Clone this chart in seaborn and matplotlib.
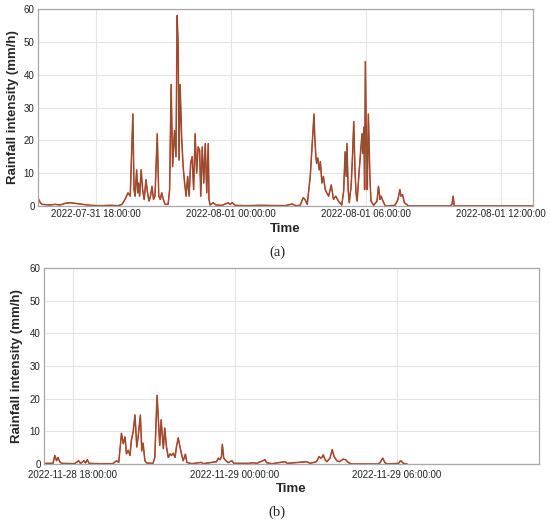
import matplotlib
matplotlib.use("Agg")
import matplotlib.pyplot as plt
import matplotlib.dates as mdates
import pandas as pd
import seaborn as sns

# ---------------- data ----------------
# Panel (a): minutes after 2022-07-31 18:00
a_base = "2022-07-31 18:00:00"
a_minutes = [-155, -149, -144, -123, -109, -96, -83, -69, -56, -43, -29, -16, 11, 37, 59,
             69, 77, 85, 91, 98, 101, 104, 108, 111, 113, 116, 120, 124, 128, 133,
             137, 141, 145, 149, 153, 157, 163, 167, 171, 175, 179, 184, 192, 196, 200,
             204, 209, 213, 216, 219, 221, 224, 228, 232, 236, 240, 244, 248, 252, 256,
             260, 264, 268, 272, 276, 279, 283, 287, 291, 295, 299, 301, 304, 312, 320,
             336, 352, 357, 363, 371, 397, 437, 504, 523, 528, 533, 544, 552, 557, 563,
             571, 581, 583, 586, 588, 591, 595, 598, 602, 606, 611, 615, 620, 627, 633,
             639, 646, 655, 660, 664, 667, 669, 672, 675, 680, 684, 687, 690, 693, 696,
             701, 709, 711, 714, 716, 718, 721, 723, 726, 730, 733, 740, 749, 753, 757,
             760, 765, 771, 797, 805, 810, 813, 817, 822, 833, 944, 949, 952, 955, 1165]
a_values = [2.5, 1.0, 0.5, 0.3, 0.5, 0.3, 0.8, 1.0, 0.8, 0.6, 0.4, 0.2, 0.1, 0.2, 0.1,
            0.5, 2, 4, 3, 28, 5, 3, 11, 4, 7, 3, 11, 5, 2, 8,
            4, 1.5, 3, 6, 2, 3, 22, 3, 2, 4, 2, 0.5, 0.5, 5, 37,
            12, 23, 15, 58, 48, 14, 37, 21, 12, 7, 3, 9, 3, 13, 15,
            5, 22, 10, 18, 17, 3, 18, 7, 19, 4, 19, 2, 0.3, 1, 0.3,
            0.2, 1, 0.5, 1, 0.2, 0.1, 0.2, 0.1, 0.6, 0.3, 0.1, 0.2, 2.5, 2, 0.5,
            9, 28, 21, 15, 13, 14.6, 11, 13.5, 7, 9, 5, 4, 3, 6.4, 2,
            3, 1.5, 0.3, 4.4, 16.5, 9, 19, 5, 1, 6, 16, 25.7, 12, 4, 1.5,
            10, 22, 16, 24, 5, 44, 16, 5, 28, 9, 1.5, 0.2, 1.5, 6, 2,
            3, 1.5, 0, 0.2, 2, 5, 3, 3.5, 1, 0, 0, 0.5, 3, 0, 0]
a_xlim = (-155, 1165)

# Panel (b): minutes after 2022-11-28 18:00
b_base = "2022-11-28 18:00:00"
b_minutes = [-64, -44, -40, -36, -33, -29, -25, 4, 13, 17, 25, 28, 32, 36, 60,
             89, 97, 102, 108, 112, 116, 119, 123, 127, 130, 134, 138, 142, 145, 150,
             153, 156, 160, 164, 178, 182, 187, 190, 193, 196, 201, 204, 208, 212, 216,
             219, 223, 227, 230, 234, 238, 242, 245, 250, 253, 264, 286, 289, 319, 323,
             327, 330, 332, 335, 340, 345, 353, 358, 393, 398, 408, 427, 430, 442, 471,
             476, 519, 527, 541, 547, 550, 553, 556, 560, 564, 571, 576, 580, 586, 592,
             600, 606, 612, 619, 678, 682, 688, 693, 698, 723, 728, 734, 742]
b_values = [0.2, 0.2, 2.6, 1, 2, 0.7, 0.2, 0.1, 1, 0.2, 1, 0.3, 1.3, 0.2, 0.1,
            0.1, 1, 0.5, 9.4, 6.2, 8.3, 3.1, 4.2, 2.6, 7.3, 9.9, 15, 5.2, 8.3, 15,
            4, 6.4, 1, 0.3, 0.2, 2, 21, 13.5, 5.7, 13.5, 4.7, 11, 5.2, 2, 3.1,
            2.6, 3.3, 2, 5.2, 8, 5.2, 2.6, 1, 3, 0.5, 0.1, 0.5, 0.1, 0.7, 1.8,
            1.3, 2.3, 6, 1.8, 1, 0.4, 1, 0.2, 0.2, 0.4, 0.2, 1.3, 0.4, 0.1, 0.7,
            0.2, 0.7, 0.2, 0.7, 2.3, 1.8, 2, 2.8, 1.3, 0.7, 1.8, 4.4, 2.3, 1, 0.7,
            1.5, 1.3, 0.4, 0, 0, 0.4, 1.8, 0.4, 0, 0.2, 1, 0.2, 0]
b_xlim = (-64, 1035)

y_ticks = [0, 10, 20, 30, 40, 50, 60]

# ---------------- plotting ----------------
sns.set_style("white")
plt.rcParams["font.family"] = ["Liberation Sans", "DejaVu Sans"]

W, H = 550, 522
fig = plt.figure(figsize=(W / 100, H / 100), dpi=100)
ax_a = fig.add_axes([38 / W, 1 - 206 / H, 495 / W, 197 / H])
ax_b = fig.add_axes([44 / W, 1 - 464 / H, 495 / W, 196 / H])


def draw(ax, base, minutes, values, xlim, ylab_x, xlab_y, xpad):
    t0 = pd.Timestamp(base)
    df = pd.DataFrame({
        "Time": t0 + pd.to_timedelta(minutes, unit="min"),
        "Rainfall": values,
    })
    sns.lineplot(data=df, x="Time", y="Rainfall", ax=ax, color="#ee2c24", lw=1.1)
    sns.lineplot(data=df, x="Time", y="Rainfall", ax=ax, color="#7d5a33", lw=0.7)
    ax.set_xlim(t0 + pd.Timedelta(minutes=xlim[0]), t0 + pd.Timedelta(minutes=xlim[1]))
    ax.set_ylim(0, 60)
    ax.set_yticks(y_ticks)
    ax.xaxis.set_major_locator(mdates.HourLocator(byhour=[0, 6, 12, 18]))
    ax.xaxis.set_major_formatter(mdates.DateFormatter("%Y-%m-%d %H:%M:%S"))
    ax.grid(True, color="#e4e4e4", lw=0.8)
    ax.set_axisbelow(True)
    for s in ax.spines.values():
        s.set_color("#a8a8a8")
        s.set_linewidth(0.9)
    ax.tick_params(axis="both", length=0, labelsize=7, colors="#222222")
    ax.tick_params(axis="y", pad=2.5)
    ax.tick_params(axis="x", pad=xpad)
    ax.set_xlabel("Time", fontsize=9.5, fontweight="bold")
    ax.set_ylabel("Rainfall intensity (mm/h)", fontsize=9.5, fontweight="bold")
    ax.xaxis.set_label_coords(0.5, xlab_y)
    ax.yaxis.set_label_coords(ylab_x, 0.5)


draw(ax_a, a_base, a_minutes, a_values, a_xlim, -0.038, -0.085, 2.5)
draw(ax_b, b_base, b_minutes, b_values, b_xlim, -0.042, -0.095, 4.0)

fig.text(277 / W, 1 - 252 / H, "(a)", ha="center", va="center",
         family=["Liberation Serif", "DejaVu Serif"], fontsize=10.5)
fig.text(277 / W, 1 - 512 / H, "(b)", ha="center", va="center",
         family=["Liberation Serif", "DejaVu Serif"], fontsize=10.5)

fig.savefig("out.png", dpi=100, facecolor="white")
